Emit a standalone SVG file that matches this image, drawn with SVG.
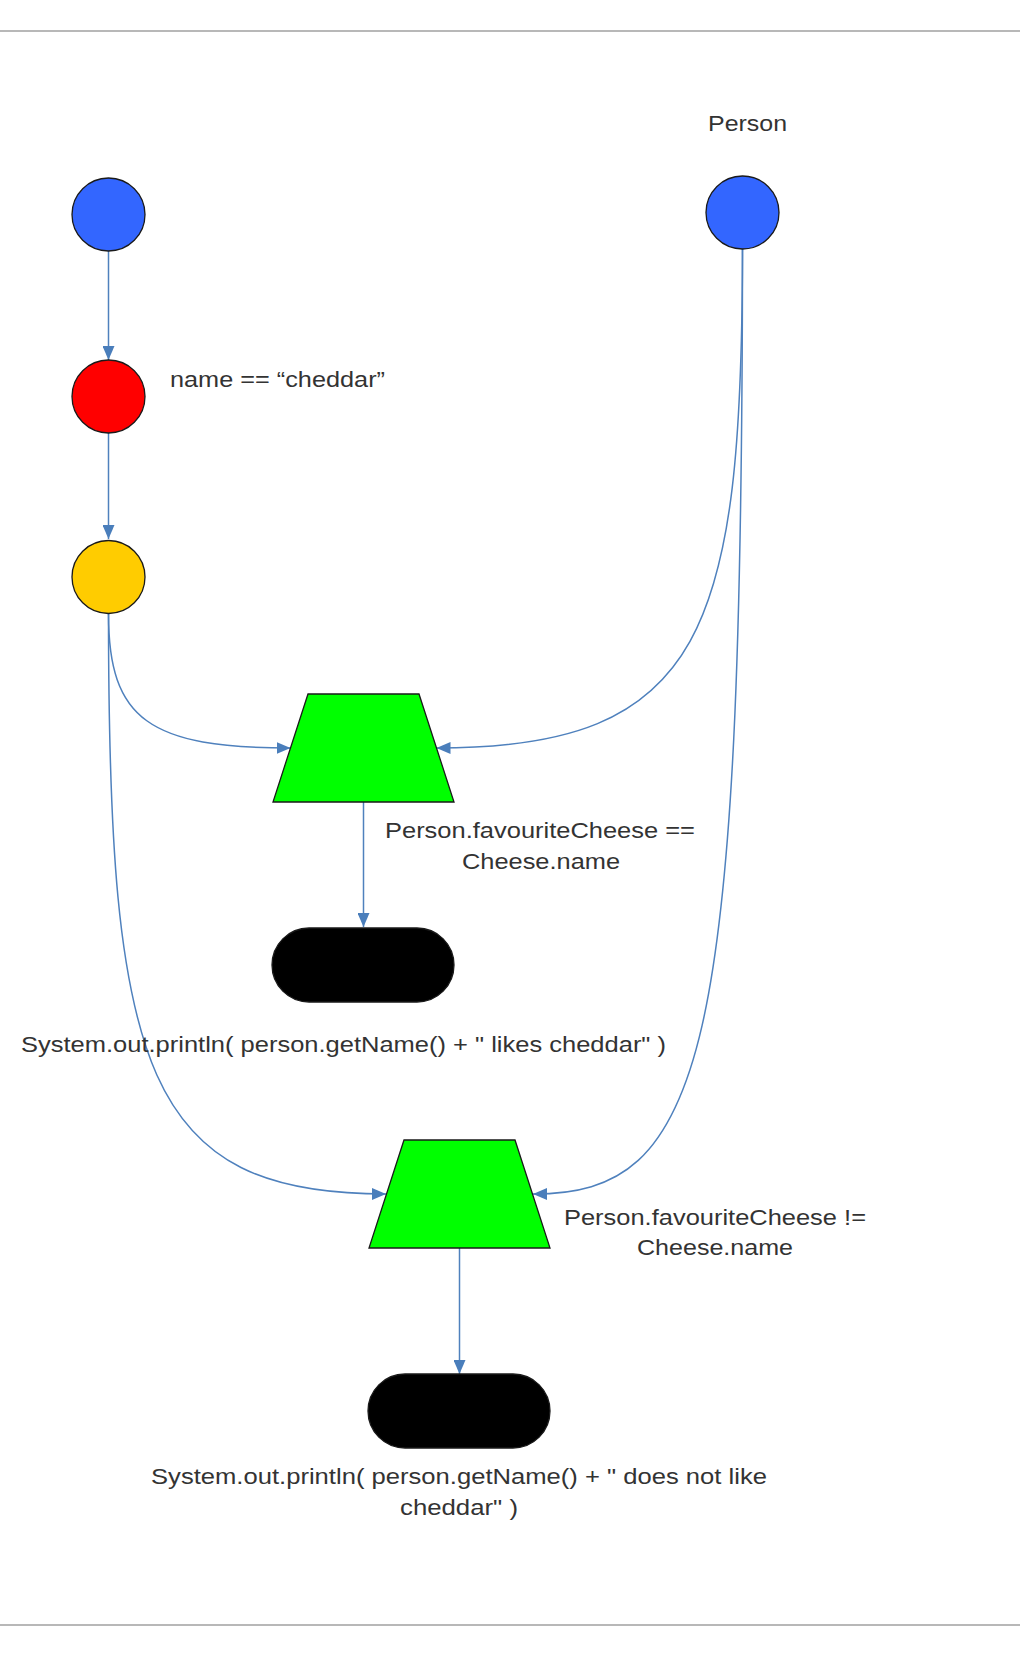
<svg xmlns="http://www.w3.org/2000/svg" width="1020" height="1656" viewBox="0 0 1020 1656">
<defs>
<style>
.rule{stroke:#b8b8b8;stroke-width:2;fill:none}
.edge{stroke:#4f81bd;stroke-width:1.5;fill:none;marker-end:url(#arr)}
.node{stroke:#1a1a1a;stroke-width:1.3}
.lbl{font-family:"Liberation Sans",Arial,sans-serif;font-size:22.5px;fill:#333333}
</style>
<marker id="arr" viewBox="0 0 14 12" refX="14" refY="6" markerWidth="14" markerHeight="12" markerUnits="userSpaceOnUse" orient="auto">
<path d="M0,0 L14,6 L0,12 Z" fill="#4a7ebb"/>
</marker>
</defs>
<rect width="1020" height="1656" fill="#ffffff"/>
<line class="rule" x1="0" y1="31" x2="1020" y2="31"/>
<line class="rule" x1="0" y1="1625" x2="1020" y2="1625"/>

<g id="connectors">
<path class="edge" d="M108.5,251 L108.5,360"/>
<path class="edge" d="M108.5,433 L108.5,539"/>
<path class="edge" d="M108.5,614 C108.5,720 150,748 290.5,748"/>
<path class="edge" d="M742.5,249 C742,630 705,748 436.5,748"/>
<path class="edge" d="M363.5,802 L363.5,927"/>
<path class="edge" d="M108.5,614 C108.5,1070 145,1194 386,1194"/>
<path class="edge" d="M742.5,249 C742,1060 705,1194 533,1194"/>
<path class="edge" d="M459.5,1248 L459.5,1374"/>
</g>

<g id="person-label"><text class="lbl" x="708" y="131" textLength="79" lengthAdjust="spacingAndGlyphs">Person</text></g>
<g id="node-root"><circle class="node" cx="108.5" cy="214.5" r="36.5" fill="#3366ff"/></g>
<g id="node-person"><circle class="node" cx="742.5" cy="212.5" r="36.5" fill="#3366ff"/></g>
<g id="node-alpha"><circle class="node" cx="108.5" cy="396.5" r="36.5" fill="#ff0000"/>
<text class="lbl" x="170" y="387" textLength="215" lengthAdjust="spacingAndGlyphs">name == “cheddar”</text></g>
<g id="node-cheese"><circle class="node" cx="108.5" cy="577" r="36.5" fill="#ffcc00"/></g>
<g id="node-join1"><polygon class="node" points="308,694 419,694 454,802 273,802" fill="#00ff00"/>
<text class="lbl" x="385" y="838" textLength="310" lengthAdjust="spacingAndGlyphs">Person.favouriteCheese ==</text>
<text class="lbl" x="462" y="869" textLength="158" lengthAdjust="spacingAndGlyphs">Cheese.name</text></g>
<g id="node-term1"><rect class="node" x="272" y="928" width="182" height="74" rx="37" ry="37" fill="#000000"/>
<text class="lbl" x="21" y="1052" textLength="645" lengthAdjust="spacingAndGlyphs">System.out.println( person.getName() + " likes cheddar" )</text></g>
<g id="node-join2"><polygon class="node" points="404,1140 515,1140 550,1248 369,1248" fill="#00ff00"/>
<text class="lbl" x="564" y="1225" textLength="302" lengthAdjust="spacingAndGlyphs">Person.favouriteCheese !=</text>
<text class="lbl" x="637" y="1255" textLength="156" lengthAdjust="spacingAndGlyphs">Cheese.name</text></g>
<g id="node-term2"><rect class="node" x="368" y="1374" width="182" height="74" rx="37" ry="37" fill="#000000"/>
<text class="lbl" x="151" y="1484" textLength="616" lengthAdjust="spacingAndGlyphs">System.out.println( person.getName() + " does not like</text>
<text class="lbl" x="400" y="1515" textLength="118" lengthAdjust="spacingAndGlyphs">cheddar" )</text></g>
</svg>
